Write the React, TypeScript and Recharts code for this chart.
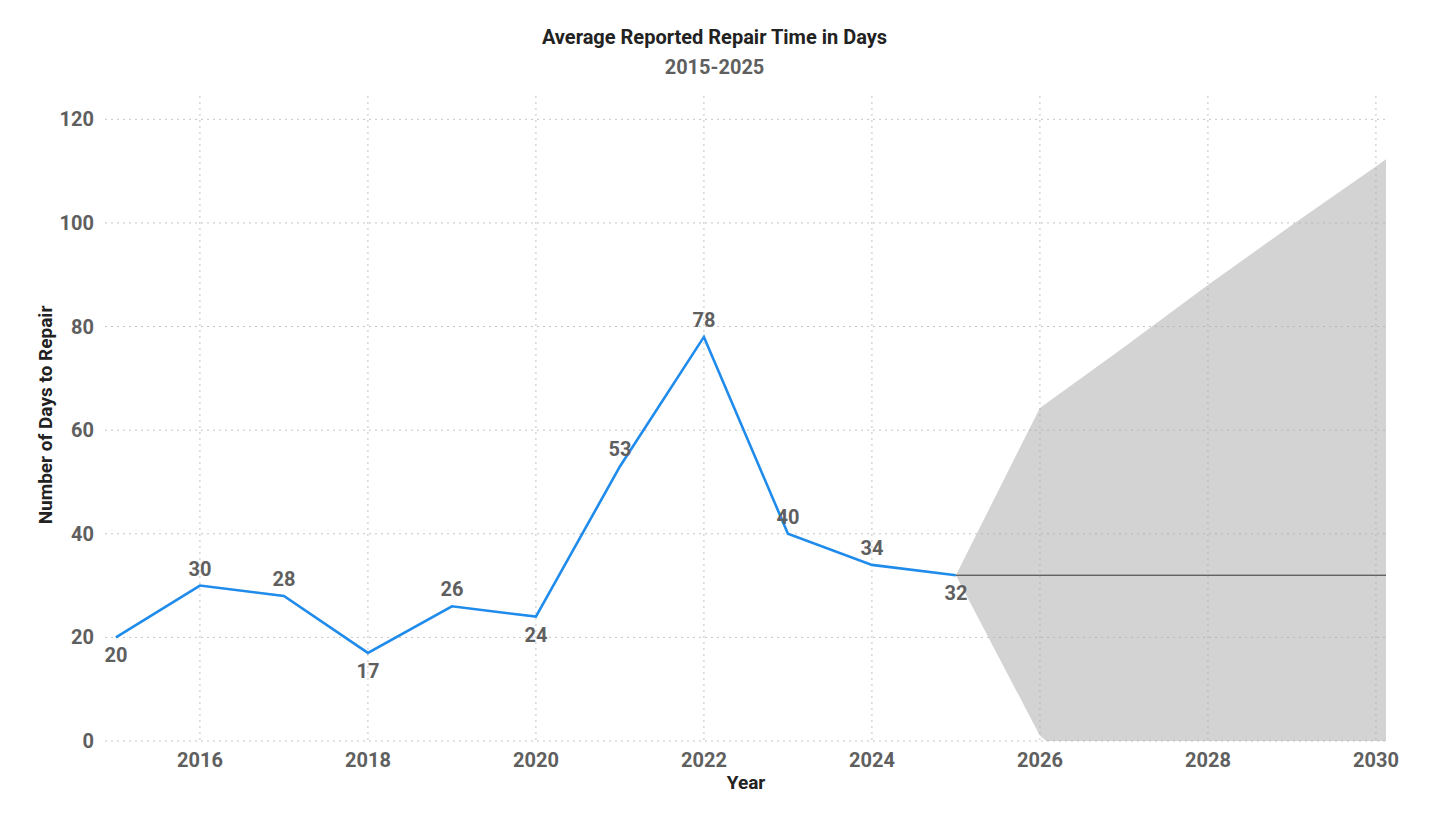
import React from "react";
import {
  ComposedChart,
  Line,
  Area,
  XAxis,
  YAxis,
  CartesianGrid,
  LabelList,
} from "recharts";

const years = [2015, 2016, 2017, 2018, 2019, 2020, 2021, 2022, 2023, 2024, 2025];
const repairDays = [20, 30, 28, 17, 26, 24, 53, 78, 40, 34, 32];

const forecastYears = [2025, 2026, 2027, 2028, 2029, 2030, 2030.12];
const forecastMean = [32, 32, 32, 32, 32, 32, 32];
const forecastUpper = [32, 64.3, 76, 88, 99.6, 110.9, 112.3];
const forecastLower = [32, 1, -12, -24, -35.6, -46.9, -48.3];

const xTicks = [2016, 2018, 2020, 2022, 2024, 2026, 2028, 2030];
const yTicks = [0, 20, 40, 60, 80, 100, 120];

const FONT = "Roboto, 'DejaVu Sans', sans-serif";

// merge history + forecast rows on the year
const rows = (() => {
  const map = new Map<number, any>();
  years.forEach((y, i) => {
    const prev = repairDays[i - 1];
    const next = repairDays[i + 1];
    const v = repairDays[i];
    const below =
      (prev === undefined || v < prev) && (next === undefined || v < next);
    map.set(y, { year: y, days: v, below });
  });
  forecastYears.forEach((y, i) => {
    const r = map.get(y) || { year: y };
    r.forecast = forecastMean[i];
    r.band = [forecastLower[i], forecastUpper[i]];
    map.set(y, r);
  });
  return Array.from(map.values()).sort((a, b) => a.year - b.year);
})();

const PointLabel = (props: any) => {
  const { x, y, value, index } = props;
  if (value === undefined || value === null) return null;
  const below = rows[index]?.below;
  return (
    <text
      x={x}
      y={below ? y + 25 : y - 10}
      textAnchor="middle"
      fill="#5f5f5f"
      fontSize={20}
      fontWeight={700}
      fontFamily={FONT}
    >
      {value}
    </text>
  );
};

const tickStyle = { fill: "#5f5f5f", fontSize: 20, fontWeight: 700, fontFamily: FONT };

export default function App() {
  return (
    <div style={{ position: "absolute", left: 0, top: 0, width: 1429, height: 825, background: "#fff" }}>
      <div
        style={{
          position: "absolute",
          left: 0,
          width: 1429,
          top: 25,
          textAlign: "center",
          fontFamily: FONT,
          fontWeight: 700,
          fontSize: 20,
          color: "#222",
        }}
      >
        Average Reported Repair Time in Days
      </div>
      <div
        style={{
          position: "absolute",
          left: 0,
          width: 1429,
          top: 55,
          textAlign: "center",
          fontFamily: FONT,
          fontWeight: 700,
          fontSize: 20,
          color: "#5f5f5f",
        }}
      >
        2015-2025
      </div>
      <div
        style={{
          position: "absolute",
          left: 45,
          top: 415,
          transform: "translate(-50%, -50%) rotate(-90deg)",
          whiteSpace: "nowrap",
          fontFamily: FONT,
          fontWeight: 700,
          fontSize: 19,
          color: "#222",
        }}
      >
        Number of Days to Repair
      </div>
      <div
        style={{
          position: "absolute",
          left: 746,
          top: 782,
          transform: "translate(-50%, -50%)",
          fontFamily: FONT,
          fontWeight: 700,
          fontSize: 19,
          color: "#222",
        }}
      >
        Year
      </div>
      <ComposedChart
        width={1429}
        height={825}
        data={rows}
        margin={{ top: 96, right: 43, bottom: 0, left: 0 }}
      >
        <CartesianGrid
          stroke="#c4c4c4"
          strokeDasharray="2 4"
          horizontalValues={yTicks}
          verticalValues={xTicks}
        />
        <XAxis
          dataKey="year"
          type="number"
          domain={[2014.87, 2030.12]}
          ticks={xTicks}
          allowDataOverflow
          axisLine={false}
          tickLine={false}
          tickMargin={6}
          height={84}
          tick={tickStyle}
        />
        <YAxis
          type="number"
          domain={[0, 124.5]}
          ticks={yTicks}
          allowDataOverflow
          axisLine={false}
          tickLine={false}
          tickMargin={5}
          width={105}
          tick={tickStyle}
        />
        <Area
          dataKey="band"
          fill="#a8a8a8"
          fillOpacity={0.5}
          stroke="none"
          isAnimationActive={false}
          connectNulls={false}
        />
        <Line
          dataKey="forecast"
          stroke="#333"
          strokeWidth={1}
          dot={false}
          isAnimationActive={false}
        />
        <Line
          dataKey="days"
          stroke="#1f8beb"
          strokeWidth={2.6}
          dot={false}
          isAnimationActive={false}
        >
          <LabelList dataKey="days" content={<PointLabel />} />
        </Line>
      </ComposedChart>
    </div>
  );
}
